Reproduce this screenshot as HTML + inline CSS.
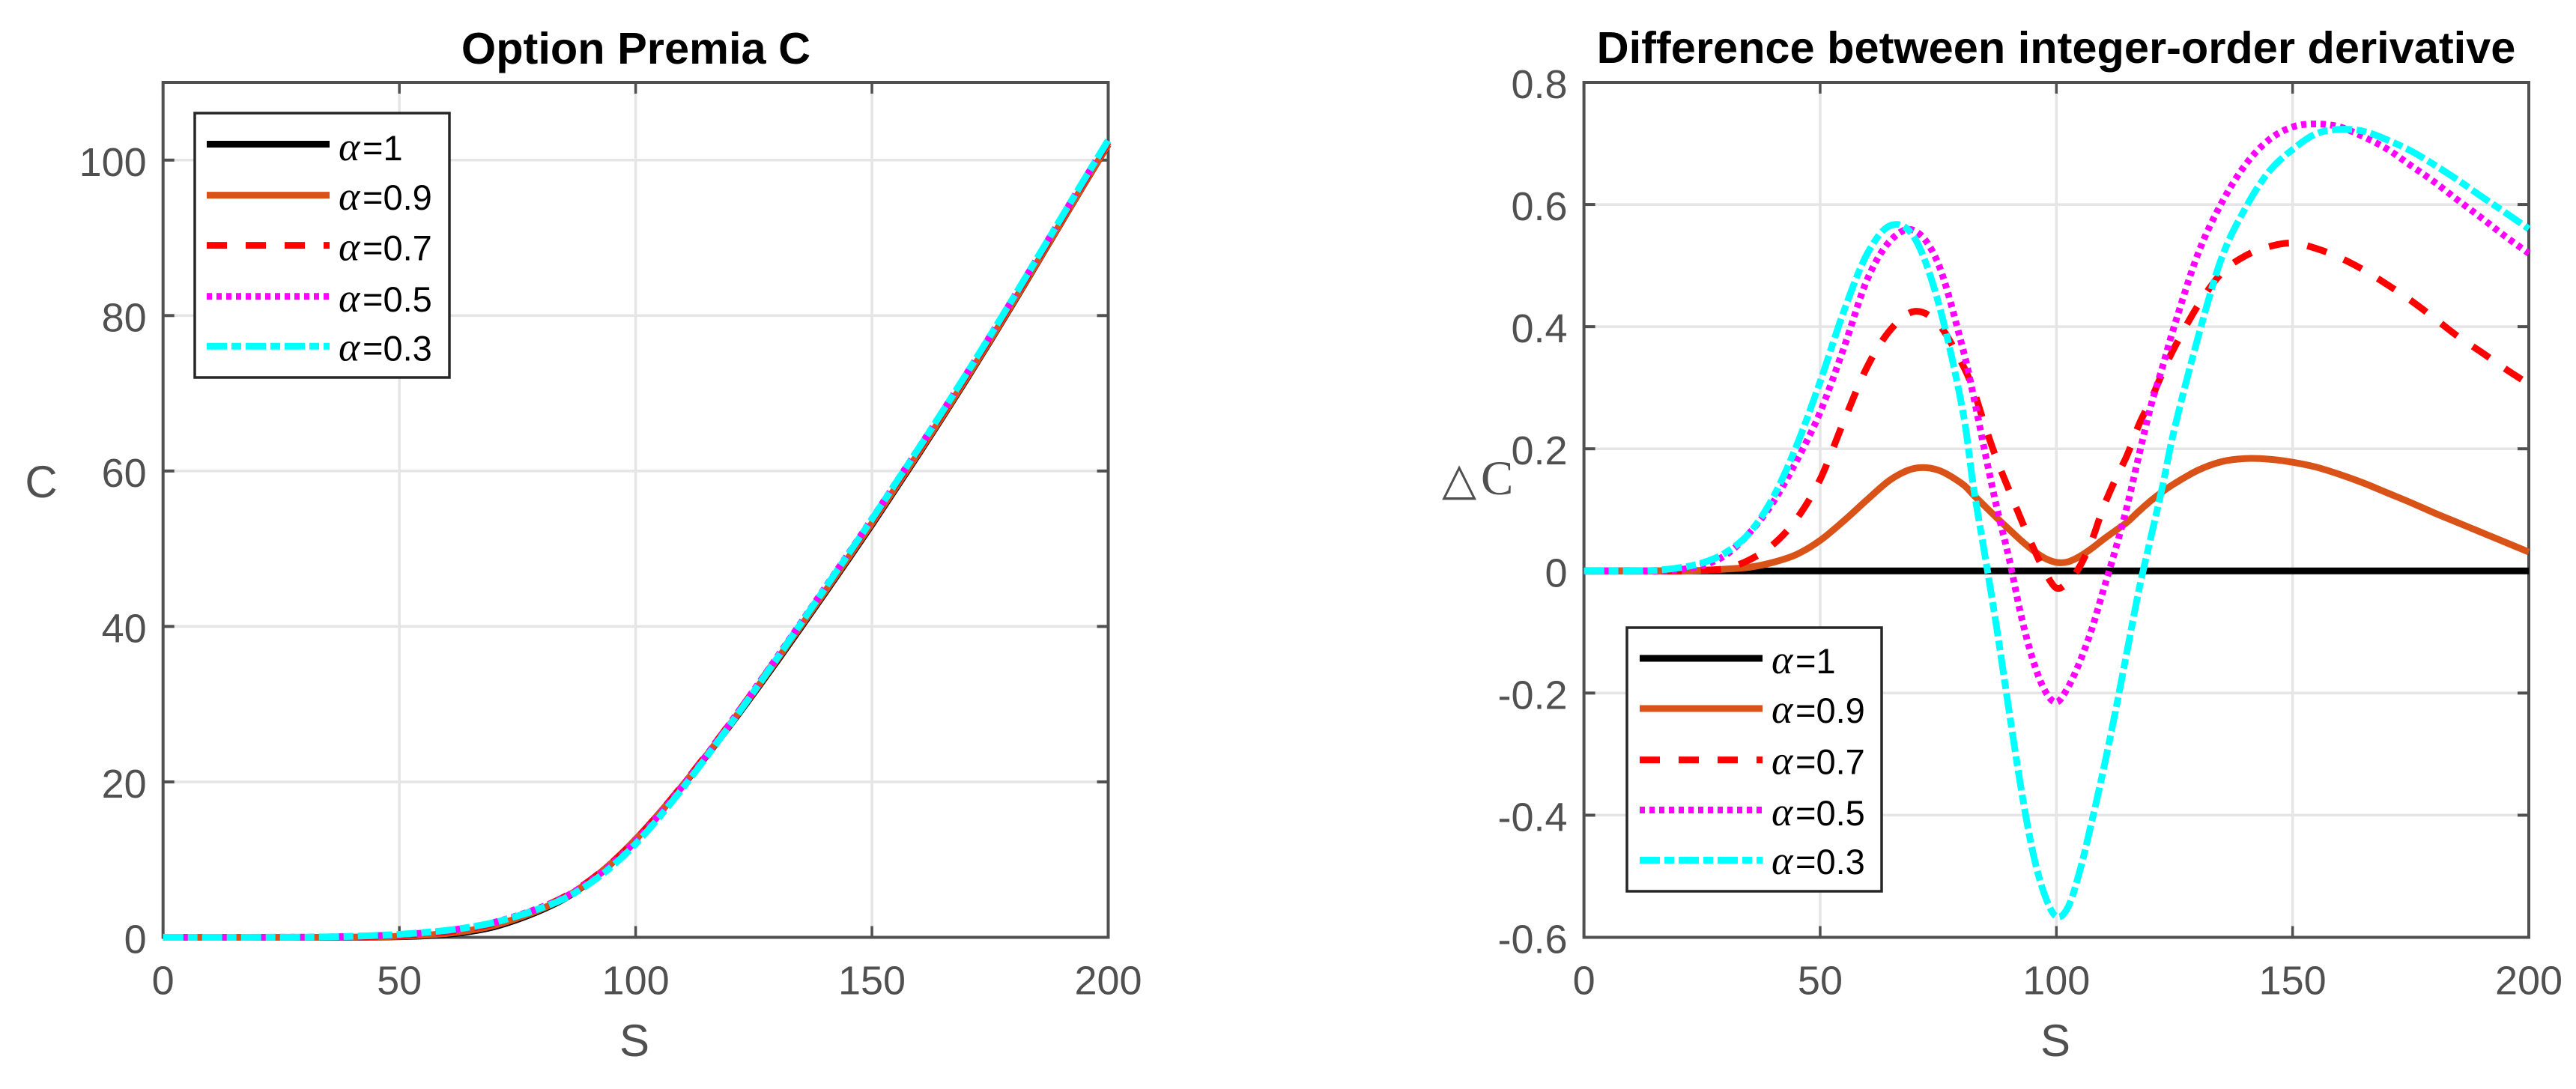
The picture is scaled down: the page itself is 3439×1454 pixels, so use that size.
<!DOCTYPE html>
<html lang="en">
<head>
<meta charset="utf-8">
<title>Option Premia C and Difference between integer-order derivative</title>
<style>
  html, body { margin: 0; padding: 0; background: #fff; }
  svg { display: block; }
  text { font-family: "Liberation Sans", sans-serif; }
</style>
</head>
<body>
<svg id="figure" xmlns="http://www.w3.org/2000/svg" width="3439" height="1454" viewBox="0 0 3439 1454">
  <rect x="0" y="0" width="3439" height="1454" fill="#ffffff"/>
  <g id="left-chart"></g>
  <g id="right-chart"></g>
  <text x="849" y="85" font-size="59.5" font-weight="bold" text-anchor="middle" fill="#000">Option Premia C</text>
  <text x="2745" y="84" font-size="59.5" font-weight="bold" text-anchor="middle" fill="#000">Difference between integer-order derivative</text>
  <text x="847" y="1410" font-size="60" text-anchor="middle" fill="#505050">S</text>
  <text x="2744" y="1410" font-size="60" text-anchor="middle" fill="#505050">S</text>
  <text x="55" y="664" font-size="60" text-anchor="middle" fill="#505050">C</text>
  <text y="660" fill="#505050"><tspan x="1925" style="font-family:'DejaVu Sans',sans-serif" font-size="60">△</tspan><tspan x="1977" style="font-family:'Liberation Serif',serif" font-size="65">C</tspan></text>
</svg>
<script>
// ---- Shared labels ----
const seriesNames = ['1', '0.9', '0.7', '0.5', '0.3'];
const xTickValues = [0, 50, 100, 150, 200];
const leftYTickValues = [0, 20, 40, 60, 80, 100];
const rightYTickValues = [-0.6, -0.4, -0.2, 0, 0.2, 0.4, 0.6, 0.8];

// ---- Left chart: option premia C against S ----
const premiaS = [0,5,10,15,20,25,30,35,40,45,50,55,60,65,70,75,80,85,90,95,100,105,110,115,120,125,130,135,140,145,150,155,160,165,170,175,180,185,190,195,200];
const premiaAlpha1 = [0,0,0,0,0,0,0,0,.01,.03,.08,.18,.38,.75,1.35,2.3,3.5,5.0,7.05,9.6,12.6,15.95,19.55,23.35,27.3,31.4,35.6,39.9,44.25,48.65,53.1,57.7,62.3,67,71.8,76.7,81.7,86.8,91.9,97,102];
const premiaAlpha09 = [0,0,0,0,0,0,0,.01,.02,.06,.13,.26,.5,.9,1.52,2.47,3.64,5.1,7.12,9.63,12.61,15.97,19.6,23.43,27.42,31.54,35.77,40.08,44.43,48.83,53.28,57.87,62.46,67.14,71.93,76.81,81.8,86.88,91.96,97.05,102.03];
const premiaAlpha07 = [0,0,0,0,0,0,0,.02,.05,.12,.23,.43,.72,1.15,1.78,2.71,3.84,5.24,7.18,9.64,12.57,15.96,19.66,23.54,27.58,31.77,36.04,40.39,44.77,49.18,53.64,58.23,62.81,67.49,72.27,77.14,82.11,87.18,92.26,97.33,102.31];
const premiaAlpha05 = [0,0,0,0,0,.01,.03,.06,.12,.21,.34,.55,.86,1.29,1.91,2.8,3.87,5.19,7.07,9.46,12.39,15.8,19.52,23.46,27.57,31.8,36.12,40.5,44.92,49.36,53.83,58.43,63.03,67.71,72.49,77.36,82.34,87.41,92.48,97.55,102.52];
const premiaAlpha03 = [0,0,0,0,.01,.01,.03,.06,.13,.24,.39,.61,.9,1.32,1.9,2.74,3.77,5.02,6.82,9.14,12.03,15.46,19.23,23.22,27.36,31.63,35.98,40.41,44.84,49.3,53.79,58.42,63.02,67.72,72.51,77.39,82.37,87.44,92.51,97.59,102.56];

// ---- Right chart: difference from the integer-order derivative ----
const diffS = [0,5,10,15,20,25,30,35,40,45,50,55,60,65,70,75,80,82.5,85,87.5,90,92.5,95,97.5,100,102.5,105,107.5,110,112.5,115,117.5,120,122.5,125,130,135,140,145,150,155,160,165,170,175,180,185,190,195,200];
const diffAlpha1 = [0,0,0,0,0,0,0,0,0,0,0,0,0,0,0,0,0,0,0,0,0,0,0,0,0,0,0,0,0,0,0,0,0,0,0,0,0,0,0,0,0,0,0,0,0,0,0,0,0,0];
const diffAlpha09 = [0,0,0,0,0,.001,.003,.006,.014,.027,.05,.082,.117,.15,.168,.165,.143,.124,.105,.086,.068,.05,.034,.021,.014,.015,.024,.037,.052,.066,.08,.098,.115,.13,.143,.165,.179,.184,.183,.178,.17,.158,.144,.128,.112,.095,.079,.063,.047,.031];
const diffAlpha07 = [0,0,0,0,0,.001,.004,.018,.043,.085,.15,.245,.335,.396,.425,.405,.34,.295,.235,.18,.132,.085,.04,0,-.028,-.018,.008,.05,.105,.15,.19,.24,.28,.325,.366,.435,.488,.516,.531,.537,.528,.513,.493,.469,.443,.414,.384,.358,.331,.306];
const diffAlpha05 = [0,0,0,0,.002,.009,.026,.062,.112,.18,.26,.365,.478,.542,.557,.503,.37,.285,.19,.1,.02,-.072,-.145,-.195,-.215,-.19,-.148,-.095,-.03,.035,.107,.19,.27,.335,.402,.52,.603,.665,.706,.727,.732,.727,.711,.691,.664,.637,.607,.578,.548,.52];
const diffAlpha03 = [0,0,0,.001,.005,.013,.03,.062,.12,.205,.31,.425,.52,.566,.545,.44,.27,.135,.02,-.1,-.23,-.355,-.46,-.53,-.566,-.55,-.49,-.41,-.324,-.23,-.13,-.03,.055,.14,.233,.383,.513,.594,.654,.69,.716,.723,.72,.706,.688,.665,.64,.613,.587,.56];

const SVG_NS = 'http://www.w3.org/2000/svg';
const seriesColors = ['#000000', '#d95319', '#ff0000', '#ff00ff', '#00ffff'];
const seriesDashes = ['none', 'none', '27 25', '7 6', '27 6 13 6'];
const AXIS_COLOR = '#505050';
const GRID_COLOR = '#e5e5e5';
const LEGEND_EDGE = '#262626';
const LINE_WIDTH = 9;
const TICK_LENGTH = 15;

function make(parent, tag) {
  const el = document.createElementNS(SVG_NS, tag);
  parent.appendChild(el);
  return el;
}

function setLine(el, x1, y1, x2, y2, color, width) {
  el.setAttribute('x1', x1);
  el.setAttribute('y1', y1);
  el.setAttribute('x2', x2);
  el.setAttribute('y2', y2);
  el.setAttribute('stroke', color);
  el.setAttribute('stroke-width', width);
}

function smoothPath(points) {
  let d = 'M' + points[0][0].toFixed(2) + ' ' + points[0][1].toFixed(2);
  for (let i = 0; i < points.length - 1; i++) {
    const p0 = points[Math.max(i - 1, 0)];
    const p1 = points[i];
    const p2 = points[i + 1];
    const p3 = points[Math.min(i + 2, points.length - 1)];
    const c1x = p1[0] + (p2[0] - p0[0]) / 6;
    const c1y = p1[1] + (p2[1] - p0[1]) / 6;
    const c2x = p2[0] - (p3[0] - p1[0]) / 6;
    const c2y = p2[1] - (p3[1] - p1[1]) / 6;
    d += 'C' + c1x.toFixed(2) + ' ' + c1y.toFixed(2) + ' ' + c2x.toFixed(2) + ' ' + c2y.toFixed(2) + ' ' + p2[0].toFixed(2) + ' ' + p2[1].toFixed(2);
  }
  return d;
}

function drawChart(root, box, xDomain, yDomain, yTicks, sValues, seriesValues, legend) {
  const xScale = v => box.left + (v - xDomain[0]) / (xDomain[1] - xDomain[0]) * (box.right - box.left);
  const yScale = v => box.bottom - (v - yDomain[0]) / (yDomain[1] - yDomain[0]) * (box.bottom - box.top);

  // grid
  xTickValues.forEach(t => {
    if (t === xDomain[0] || t === xDomain[1]) return;
    const g = make(root, 'line');
    
    
    setLine(g, xScale(t), box.top, xScale(t), box.bottom, GRID_COLOR, 3.5);
  });
  yTicks.forEach(t => {
    if (t === yDomain[0] || t === yDomain[1]) return;
    const g = make(root, 'line');
    
    
    setLine(g, box.left, yScale(t), box.right, yScale(t), GRID_COLOR, 3.5);
  });

  // axes box
  const frame = make(root, 'rect');
  
  
  frame.setAttribute('x', box.left);
  frame.setAttribute('y', box.top);
  frame.setAttribute('width', box.right - box.left);
  frame.setAttribute('height', box.bottom - box.top);
  frame.setAttribute('fill', 'none');
  frame.setAttribute('stroke', AXIS_COLOR);
  frame.setAttribute('stroke-width', 4);

  // ticks and labels
  xTickValues.forEach(t => {
    const x = xScale(t);
    const b = make(root, 'line');
    
    
    setLine(b, x, box.bottom, x, box.bottom - TICK_LENGTH, AXIS_COLOR, 3.5);
    const a = make(root, 'line');
    
    
    setLine(a, x, box.top, x, box.top + TICK_LENGTH, AXIS_COLOR, 3.5);
    const label = make(root, 'text');
    
    
    label.setAttribute('x', x);
    label.setAttribute('y', box.bottom + 76);
    label.setAttribute('font-size', 54);
    label.setAttribute('text-anchor', 'middle');
    label.setAttribute('fill', AXIS_COLOR);
    label.textContent = String(t);
  });
  yTicks.forEach(t => {
    const y = yScale(t);
    const l = make(root, 'line');
    
    
    setLine(l, box.left, y, box.left + TICK_LENGTH, y, AXIS_COLOR, 4);
    const r = make(root, 'line');
    
    
    setLine(r, box.right, y, box.right - TICK_LENGTH, y, AXIS_COLOR, 4);
    const label = make(root, 'text');
    
    
    label.setAttribute('x', box.left - 22);
    label.setAttribute('y', y + 21);
    label.setAttribute('font-size', 54);
    label.setAttribute('text-anchor', 'end');
    label.setAttribute('fill', AXIS_COLOR);
    label.textContent = String(t);
  });

  // series
  seriesValues.forEach((values, i) => {
    const points = values.map((v, k) => [xScale(sValues[k]), yScale(v)]);
    const path = make(root, 'path');
    
    
    path.setAttribute('d', smoothPath(points));
    path.setAttribute('fill', 'none');
    path.setAttribute('stroke', seriesColors[i]);
    path.setAttribute('stroke-width', LINE_WIDTH);
    path.setAttribute('stroke-linejoin', 'round');
    if (seriesDashes[i] !== 'none') path.setAttribute('stroke-dasharray', seriesDashes[i]);
  });

  // legend
  const legendGroup = make(root, 'g');
  
  
  const legendBox = make(legendGroup, 'rect');
  
  
  legendBox.setAttribute('x', legend.left);
  legendBox.setAttribute('y', legend.top);
  legendBox.setAttribute('width', legend.right - legend.left);
  legendBox.setAttribute('height', legend.bottom - legend.top);
  legendBox.setAttribute('fill', '#ffffff');
  legendBox.setAttribute('stroke', LEGEND_EDGE);
  legendBox.setAttribute('stroke-width', 3.5);
  seriesNames.forEach((name, i) => {
    const sample = make(legendGroup, 'line');
    
    
    setLine(sample, legend.sampleLeft, legend.sampleY[i], legend.sampleRight, legend.sampleY[i], seriesColors[i], LINE_WIDTH);
    if (seriesDashes[i] !== 'none') sample.setAttribute('stroke-dasharray', seriesDashes[i]);
    const label = make(legendGroup, 'text');
    
    
    label.setAttribute('y', legend.baseY[i]);
    label.setAttribute('font-size', 47);
    label.setAttribute('fill', '#000000');
    const alpha = make(label, 'tspan');
    alpha.setAttribute('x', legend.textLeft);
    alpha.setAttribute('font-size', 54);
    alpha.setAttribute('style', "font-family:'Liberation Serif',serif;font-style:italic");
    alpha.textContent = 'α';
    const rest = make(label, 'tspan');
    rest.setAttribute('x', legend.textLeft + 32);
    rest.textContent = '=' + name;
  });
}

drawChart(
  document.getElementById('left-chart'),
  { left: 217.7, right: 1479.5, top: 110, bottom: 1251.5 },
  [0, 200], [0, 110], leftYTickValues, premiaS,
  [premiaAlpha1, premiaAlpha09, premiaAlpha07, premiaAlpha05, premiaAlpha03],
  { left: 260, right: 600, top: 151, bottom: 504, sampleLeft: 276, sampleRight: 440, textLeft: 452,
    sampleY: [192.5, 260.6, 327.6, 395.7, 462.3], baseY: [214, 280, 347.5, 416, 481.5] }
);

drawChart(
  document.getElementById('right-chart'),
  { left: 2114.6, right: 3376, top: 110, bottom: 1251.5 },
  [0, 200], [-0.6, 0.8], rightYTickValues, diffS,
  [diffAlpha1, diffAlpha09, diffAlpha07, diffAlpha05, diffAlpha03],
  { left: 2172, right: 2512, top: 838, bottom: 1190, sampleLeft: 2189, sampleRight: 2353, textLeft: 2365,
    sampleY: [879, 946, 1014.6, 1081.5, 1148.5], baseY: [899, 965, 1033.7, 1102, 1167] }
);
</script>
</body>
</html>
